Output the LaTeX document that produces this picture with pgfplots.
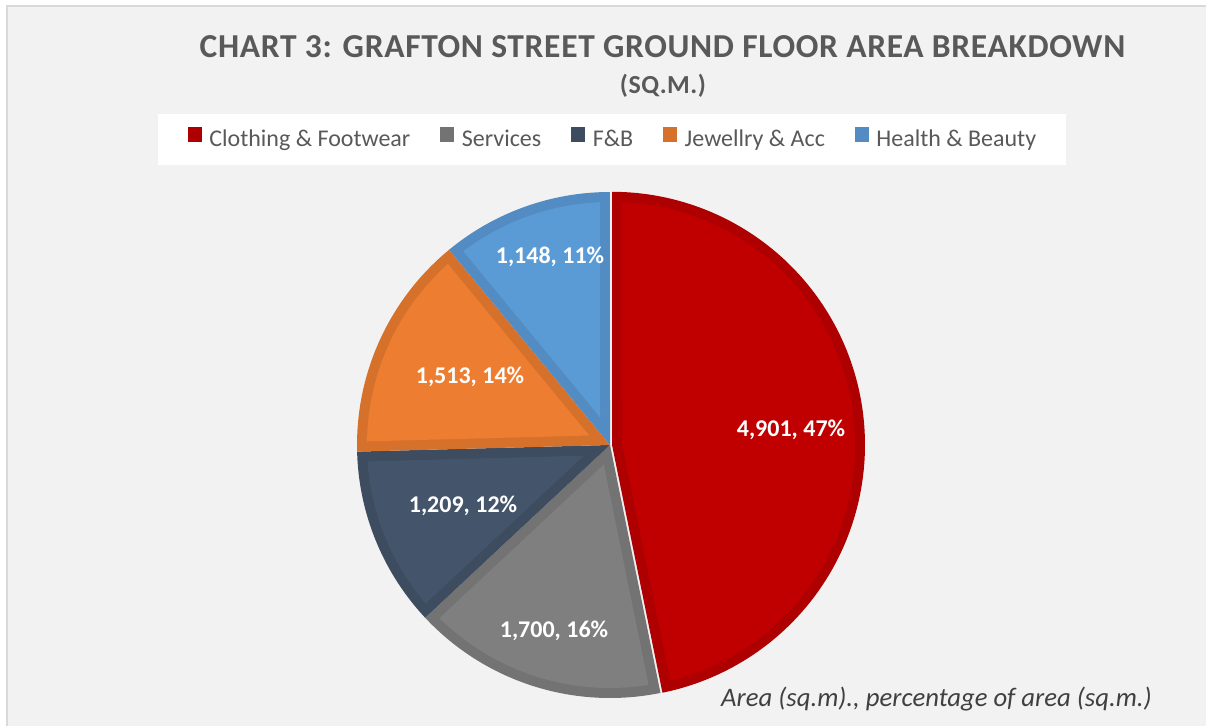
\documentclass[border=0pt]{standalone}
\usepackage{pgfplots}
\pgfplotsset{compat=1.18}
\usepackage{pgfplotstable}
\usepackage{fontspec}
\setmainfont{Carlito}
\newfontfamily\titlefont[LetterSpace=2.0]{Carlito}

\definecolor{bggray}{HTML}{F2F2F2}
\definecolor{linegray}{HTML}{D9D9D9}
\definecolor{titlegray}{HTML}{595959}
\definecolor{annotgray}{HTML}{404040}
\definecolor{redM}{HTML}{C00000}
\definecolor{redD}{HTML}{AE0000}
\definecolor{grayM}{HTML}{7F7F7F}
\definecolor{grayD}{HTML}{737373}
\definecolor{fbM}{HTML}{44546A}
\definecolor{fbD}{HTML}{3D4C5F}
\definecolor{orM}{HTML}{ED7D31}
\definecolor{orD}{HTML}{D6712C}
\definecolor{blM}{HTML}{5B9BD5}
\definecolor{blD}{HTML}{528CC2}

\pgfplotstableread{
cat value
Clothing 4901
Services 1700
FB 1209
Jewellry 1513
Health 1148
}\pietable

% geometry of the pie (1 axis unit = 1pt)
\def\CX{610}
\def\CY{281}
\def\PR{253}
\def\BW{10}

\newcommand\pieslice[5]{% #1 start angle, #2 end angle, #3 dark, #4 main, #5 explode
  \pgfmathsetmacro\smid{(#1+#2)/2}%
  \pgfmathsetmacro\shalf{(#1-#2)/2}%
  \pgfmathsetmacro\scx{\CX+#5*cos(\smid)}%
  \pgfmathsetmacro\scy{\CY+#5*sin(\smid)}%
  \pgfmathsetmacro\soff{\BW/sin(\shalf)}%
  \pgfmathsetmacro\sax{\scx+\soff*cos(\smid)}%
  \pgfmathsetmacro\say{\scy+\soff*sin(\smid)}%
  \pgfmathsetmacro\sri{\PR-\BW}%
  \pgfmathsetmacro\sdel{asin(\BW/\sri)}%
  \pgfmathsetmacro\sia{#2+\sdel}%
  \pgfmathsetmacro\sib{#1-\sdel}%
  \edef\doplot{%
    \noexpand\addplot[fill=#3, draw=none, domain=#2:#1, samples=150]
      ({\scx+\PR*cos(x)},{\scy+\PR*sin(x)}) -- (axis cs:\scx,\scy) -- cycle;
    \noexpand\addplot[fill=#4, draw=none, domain=\sia:\sib, samples=150, forget plot]
      ({\scx+\sri*cos(x)},{\scy+\sri*sin(x)}) -- (axis cs:\sax,\say) -- cycle;
  }\doplot
}

\begin{document}
\begin{tikzpicture}[x=1pt,y=1pt]
\pgfplotstablegetelem{0}{value}\of\pietable \let\vA\pgfplotsretval
\pgfplotstablegetelem{1}{value}\of\pietable \let\vB\pgfplotsretval
\pgfplotstablegetelem{2}{value}\of\pietable \let\vC\pgfplotsretval
\pgfplotstablegetelem{3}{value}\of\pietable \let\vD\pgfplotsretval
\pgfplotstablegetelem{4}{value}\of\pietable \let\vE\pgfplotsretval
\pgfmathsetmacro\total{\vA+\vB+\vC+\vD+\vE}
\pgfmathsetmacro\aA{90}
\pgfmathsetmacro\aB{\aA-360*(\vA/\total)}
\pgfmathsetmacro\aC{\aB-360*(\vB/\total)}
\pgfmathsetmacro\aD{\aC-360*(\vC/\total)}
\pgfmathsetmacro\aE{\aD-360*(\vD/\total)}
\pgfmathsetmacro\aF{\aE-360*(\vE/\total)}

\useasboundingbox (0,0) rectangle (1206,726);
\fill[white] (0,0) rectangle (1206,726);
\fill[bggray] (7,0) rectangle (1206,720);
\draw[linegray, line width=1.5pt] (7,0) -- (7,720) -- (1206,720);

\begin{axis}[
  at={(0,0)}, anchor=south west,
  width=1206pt, height=726pt, scale only axis,
  xmin=0, xmax=1206, ymin=0, ymax=726,
  hide axis, clip=false,
  legend columns=-1,
  legend image code/.code={\fill[#1] (0pt,-0.5pt) rectangle (14pt,14pt);},
  legend style={
    at={(axis cs:612,586.5)}, anchor=center,
    fill=white, draw=none,
    inner xsep=30pt, inner ysep=13pt,
    font=\fontsize{24}{28}\selectfont,
    text=titlegray,
    nodes={inner sep=0pt, text height=16pt, text depth=5pt},
    /tikz/every odd column/.append style={column sep=7.5pt},
    /tikz/every even column/.append style={column sep=30pt},
  },
]
\pieslice{\aA}{\aB}{redD}{redM}{2}
\pieslice{\aB}{\aC}{grayD}{grayM}{0}
\pieslice{\aC}{\aD}{fbD}{fbM}{0}
\pieslice{\aD}{\aE}{orD}{orM}{0}
\pieslice{\aE}{\aF}{blD}{blM}{0}
\legend{Clothing \& Footwear, Services, F\&B, Jewellry \& Acc, Health \& Beauty}
\end{axis}

\node[anchor=base, inner sep=0pt, text=titlegray, font=\titlefont\bfseries\fontsize{33.5}{38}\selectfont]
  at (662.5,668) {CHART 3: GRAFTON STREET GROUND FLOOR AREA BREAKDOWN};
\node[anchor=base, inner sep=0pt, text=titlegray, font=\titlefont\bfseries\fontsize{26}{30}\selectfont]
  at (663,632) {(SQ.M.)};

\begin{scope}[every node/.style={anchor=base, inner sep=0pt, text=white, font=\bfseries\fontsize{24}{28}\selectfont}]
\node at (791,290) {4,901, 47\%};
\node at (554,89) {1,700, 16\%};
\node at (463,214) {1,209, 12\%};
\node at (470,342) {1,513, 14\%};
\node at (550,462) {1,148, 11\%};
\end{scope}

\node[anchor=base west, inner sep=0pt, text=annotgray, font=\itshape\fontsize{26.7}{30}\selectfont]
  at (721,20) {Area (sq.m)., percentage of area (sq.m.)};
\end{tikzpicture}
\end{document}
